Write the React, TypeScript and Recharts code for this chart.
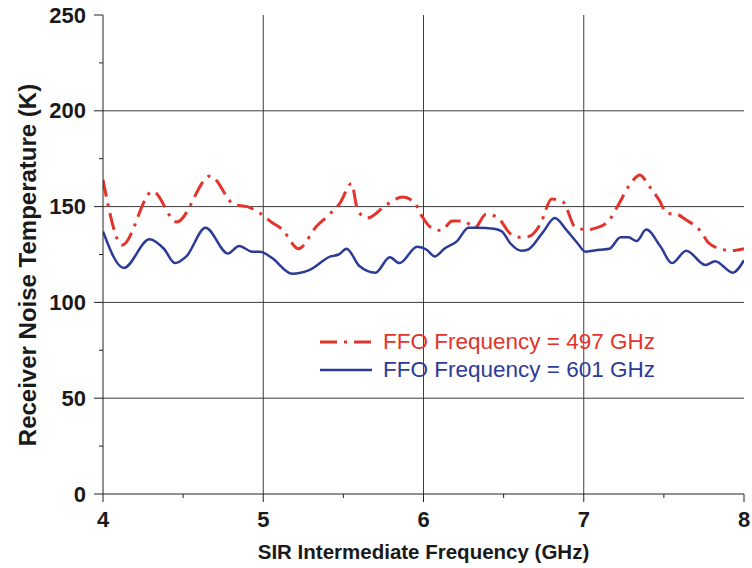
import { CartesianGrid, Legend, Line, LineChart, XAxis, YAxis } from "recharts";

const RED = "#e3342b";
const BLUE = "#2d3b98";
const FONT = "'Liberation Sans', Arial, sans-serif";

// IF frequency (GHz) and receiver noise temperature (K), FFO at 497 GHz
const freq497 = [
  4.0, 4.12, 4.31, 4.46, 4.67, 4.82, 4.9, 4.98, 5.05, 5.12, 5.22, 5.33, 5.4, 5.48, 5.55, 5.59, 5.65,
  5.77, 5.87, 5.94, 5.99, 6.04, 6.11, 6.18, 6.25, 6.32, 6.39, 6.46, 6.54, 6.6, 6.66, 6.73, 6.8,
  6.87, 6.95, 7.02, 7.1, 7.16, 7.21, 7.3, 7.35, 7.41, 7.47, 7.52, 7.58, 7.64, 7.72, 7.78, 7.85,
  7.92, 8.0
];
const temp497 = [
  164, 130, 158, 142, 166, 151, 150, 146.5, 142, 138, 128, 139.5, 145, 152, 162, 148, 144, 151,
  155, 152.5, 145, 139.5, 137.5, 142.5, 142.5, 139, 146, 144.5, 136, 134, 134.5, 141, 154, 152.5,
  139, 138, 139.5, 143, 150, 163, 166.5, 160.5, 153.5, 146.5, 146, 143, 138, 131, 128, 127, 128
];

// same sweep, FFO at 601 GHz
const freq601 = [
  4.0, 4.13, 4.29, 4.38, 4.45, 4.52, 4.64, 4.78, 4.85, 4.93, 4.98, 5.05, 5.18, 5.29, 5.42, 5.47,
  5.52, 5.6, 5.7, 5.79, 5.85, 5.96, 6.02, 6.07, 6.13, 6.21, 6.28, 6.34, 6.44, 6.49, 6.54, 6.61,
  6.65, 6.74, 6.82, 6.89, 6.96, 7.01, 7.1, 7.16, 7.23, 7.28, 7.33, 7.39, 7.48, 7.55, 7.64, 7.76,
  7.82, 7.93, 8.0
];
const temp601 = [
  137, 118, 133, 128, 120.5, 124, 139, 125.5, 129.5, 126.5, 126.5, 123.5, 115, 117, 124, 125, 128,
  119, 115.5, 123.5, 120.5, 129, 127.5, 124, 128, 132, 139, 139, 138.5, 137, 131, 127, 127.5, 136,
  144, 138, 131, 126.5, 127.5, 128, 134, 134, 132, 138, 129, 120.5, 127, 119.5, 121.5, 115.5, 122
];

const xTicks = [4, 4.5, 5, 5.5, 6, 6.5, 7, 7.5, 8];
const yTicks = [0, 25, 50, 75, 100, 125, 150, 175, 200, 225, 250];
const gridX = [5, 6, 7];
const gridY = [50, 100, 150, 200];

const series497 = freq497.map((f, i) => ({ f, t: temp497[i] }));
const series601 = freq601.map((f, i) => ({ f, t: temp601[i] }));

const RED_DASH = "17 7 3 7";

const boldText = {
  fontFamily: FONT,
  fontSize: 22,
  fontWeight: 700,
  fill: "#1a1a1a"
};

function LeftTick({ x, y, payload }: any) {
  const major = payload.value % 50 === 0;
  return (
    <g>
      <line x1={x - (major ? 9 : 4)} x2={x} y1={y} y2={y} stroke="#222" />
      {major && (
        <text x={x - 17} y={y} textAnchor="end" dominantBaseline="central" style={boldText}>
          {payload.value}
        </text>
      )}
    </g>
  );
}

function BottomTick({ x, y, payload }: any) {
  const major = Number.isInteger(payload.value);
  return (
    <g>
      <line x1={x} x2={x} y1={y} y2={y + (major ? 8 : 4)} stroke="#222" />
      {major && (
        <text x={x} y={y + 25} textAnchor="middle" dominantBaseline="central" style={boldText}>
          {payload.value}
        </text>
      )}
    </g>
  );
}

function RightTick({ x, y, payload }: any) {
  const major = payload.value % 50 === 0;
  return <line x1={x - (major ? 9 : 5)} x2={x} y1={y} y2={y} stroke="#222" />;
}

function TopTick({ x, y, payload }: any) {
  const major = Number.isInteger(payload.value);
  return <line x1={x} x2={x} y1={y} y2={y + (major ? 9 : 5)} stroke="#222" />;
}

function YTitle({ viewBox }: any) {
  const cx = viewBox.x + 27;
  const cy = viewBox.y + 250;
  return (
    <text
      x={cx}
      y={cy}
      transform={`rotate(-90 ${cx} ${cy})`}
      textAnchor="middle"
      dominantBaseline="central"
      style={{ ...boldText, fontSize: 24 }}
    >
      Receiver Noise Temperature (K)
    </text>
  );
}

function XTitle({ viewBox }: any) {
  return (
    <text
      x={viewBox.x + viewBox.width / 2}
      y={viewBox.y + 57}
      textAnchor="middle"
      dominantBaseline="central"
      style={{ ...boldText, fontSize: 20.5 }}
    >
      SIR Intermediate Frequency (GHz)
    </text>
  );
}

function LegendBox() {
  const rows = [
    { label: "FFO Frequency = 497 GHz", color: RED, dash: RED_DASH, width: 3 },
    { label: "FFO Frequency = 601 GHz", color: BLUE, dash: undefined, width: 2.5 }
  ];
  return (
    <div>
      {rows.map((r) => (
        <div key={r.label} style={{ display: "flex", alignItems: "center", height: 28 }}>
          <svg width={52} height={10} style={{ marginRight: 11 }}>
            <line x1={0} x2={52} y1={5} y2={5} stroke={r.color} strokeWidth={r.width} strokeDasharray={r.dash} />
          </svg>
          <span style={{ fontFamily: FONT, fontSize: 22.5, color: r.color, lineHeight: "28px" }}>{r.label}</span>
        </div>
      ))}
    </div>
  );
}

export default function App() {
  return (
    <div style={{ width: 752, height: 568, background: "#fff" }}>
      <style>{"body{margin:0}"}</style>
      <LineChart width={752} height={568} margin={{ top: 15, right: 8, bottom: 0, left: 0 }}>
        <CartesianGrid
          horizontalValues={gridY}
          verticalValues={gridX}
          stroke="#3c3c3c"
          strokeWidth={1}
        />
        <XAxis
          dataKey="f"
          type="number"
          domain={[4, 8]}
          ticks={xTicks}
          allowDataOverflow
          height={74}
          tickLine={false}
          tickSize={0}
          tickMargin={0}
          tick={<BottomTick />}
          axisLine={{ stroke: "#222" }}
          label={<XTitle />}
        />
        <XAxis
          xAxisId="top"
          orientation="top"
          type="number"
          domain={[4, 8]}
          ticks={xTicks}
          allowDataOverflow
          height={0}
          tickLine={false}
          tickSize={0}
          tickMargin={0}
          tick={<TopTick />}
          axisLine={{ stroke: "#777" }}
        />
        <YAxis
          type="number"
          domain={[0, 250]}
          ticks={yTicks}
          allowDataOverflow
          width={103}
          tickLine={false}
          tickSize={0}
          tickMargin={0}
          tick={<LeftTick />}
          axisLine={{ stroke: "#222" }}
          label={<YTitle />}
        />
        <YAxis
          yAxisId="right"
          orientation="right"
          type="number"
          domain={[0, 250]}
          ticks={yTicks}
          allowDataOverflow
          width={0}
          tickLine={false}
          tickSize={0}
          tickMargin={0}
          tick={<RightTick />}
          axisLine={{ stroke: "#222" }}
        />
        <Legend
          layout="vertical"
          align="center"
          verticalAlign="middle"
          wrapperStyle={{ left: 320, top: 328, width: "auto" }}
          content={<LegendBox />}
        />
        <Line
          data={series497}
          dataKey="t"
          type="monotone"
          stroke={RED}
          strokeWidth={3}
          strokeDasharray={RED_DASH}
          dot={false}
          isAnimationActive={false}
        />
        <Line
          data={series601}
          dataKey="t"
          type="monotone"
          stroke={BLUE}
          strokeWidth={2.5}
          dot={false}
          isAnimationActive={false}
        />
      </LineChart>
    </div>
  );
}
